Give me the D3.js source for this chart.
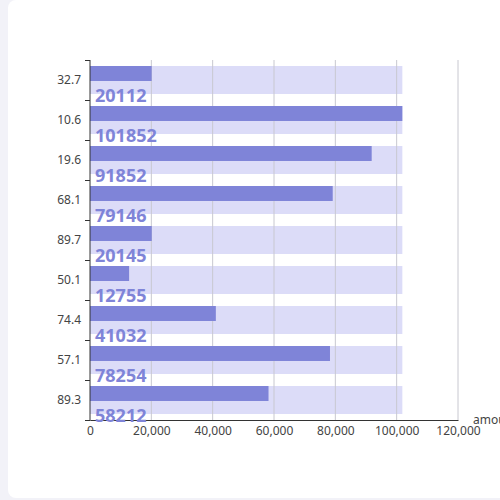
<!DOCTYPE html>
<html>
<head>
<meta charset="utf-8">
<script src="https://cdn.jsdelivr.net/npm/d3@7"></script>
<style>
  html, body { margin: 0; padding: 0; background: #f2f2f8; overflow: hidden; }
  #card { position: absolute; left: 8px; top: 0; width: 520px; height: 498px; background: #fff; border-radius: 8px; }
  svg { position: absolute; left: 0; top: 0; }
  text { font-family: "Noto Sans", sans-serif; }
</style>
</head>
<body>
<div id="card"></div>
<svg id="chart" width="500" height="500"></svg>
<script>
// data
const categories = ["32.7", "10.6", "19.6", "68.1", "89.7", "50.1", "74.4", "57.1", "89.3"];
const amounts = [20112, 101852, 91852, 79146, 20145, 12755, 41032, 78254, 58212];
const xTicks = [0, 20000, 40000, 60000, 80000, 100000, 120000];

const svg = d3.select("#chart");
const mLeft = 90, mRight = 458, mTop = 60, mBottom = 420;

const x = d3.scaleLinear().domain([0, 120000]).range([mLeft, mRight]);
const y = d3.scaleBand().domain(categories).range([mTop, mBottom]);
const maxVal = d3.max(amounts);

const barColor = "#7f84d8";
const bgColor = "#dcdcf8";

// background bars (full length at max value)
svg.append("g")
    .selectAll("rect")
    .data(categories)
    .enter().append("rect")
    .attr("x", x(0))
    .attr("y", d => y(d) + 6)
    .attr("width", x(maxVal) - x(0))
    .attr("height", 28)
    .attr("fill", bgColor);

// vertical grid
svg.append("g")
    .selectAll("line")
    .data(xTicks.slice(1))
    .enter().append("line")
    .attr("x1", d => x(d)).attr("x2", d => x(d))
    .attr("y1", mTop).attr("y2", mBottom)
    .attr("stroke", "#c8c8d0")
    .attr("stroke-width", 1);

// value bars
svg.append("g")
    .selectAll("rect")
    .data(amounts)
    .enter().append("rect")
    .attr("x", x(0))
    .attr("y", (d, i) => y(categories[i]) + 6)
    .attr("width", d => x(d) - x(0))
    .attr("height", 15)
    .attr("fill", barColor);

// x axis
const xAxis = svg.append("g")
    .attr("transform", `translate(0,${mBottom})`)
    .call(d3.axisBottom(x).tickValues(xTicks).tickSize(0).tickPadding(6).tickFormat(d3.format(",")));
xAxis.select(".domain").attr("stroke", "#333");
xAxis.selectAll("text").attr("font-size", 12).attr("fill", "#444")
    .attr("font-family", "'Noto Sans', sans-serif");

// y axis, ticks on band boundaries
const yAxis = svg.append("g").attr("transform", `translate(${mLeft},0)`);
yAxis.append("line")
    .attr("x1", 0).attr("x2", 0)
    .attr("y1", mTop).attr("y2", mBottom + 1)
    .attr("stroke", "#333");
yAxis.selectAll(".tk")
    .data(categories.concat(["end"]))
    .enter().append("line")
    .attr("class", "tk")
    .attr("x1", -5).attr("x2", 0)
    .attr("y1", (d, i) => mTop + i * y.step() + 0.5)
    .attr("y2", (d, i) => mTop + i * y.step() + 0.5)
    .attr("stroke", "#333");
yAxis.selectAll("text")
    .data(categories)
    .enter().append("text")
    .attr("x", -9)
    .attr("y", d => y(d) + y.bandwidth() / 2)
    .attr("dy", "0.35em")
    .attr("text-anchor", "end")
    .attr("font-size", 12)
    .attr("fill", "#444")
    .text(d => d);

// axis name
svg.append("text")
    .attr("x", mRight + 15)
    .attr("y", mBottom)
    .attr("dy", "0.35em")
    .attr("font-size", 12)
    .attr("fill", "#444")
    .text("amount");

// value labels
svg.append("g")
    .selectAll("text")
    .data(amounts)
    .enter().append("text")
    .attr("x", x(0) + 5)
    .attr("y", (d, i) => y(categories[i]) + 42)
    .attr("font-size", 18)
    .attr("font-weight", "bold")
    .attr("fill", barColor)
    .text(d => d);
</script>
</body>
</html>
